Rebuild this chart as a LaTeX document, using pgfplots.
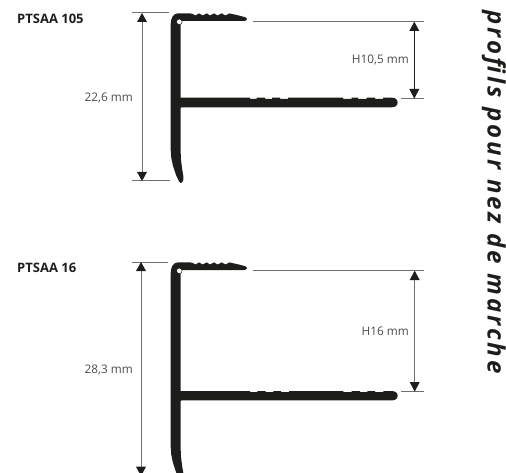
\documentclass[border=0pt]{standalone}
\usepackage{fontspec}
\setmainfont{Open Sans}
\newfontfamily\titlefont[LetterSpace=13,BoldItalicFont={* Bold Italic}]{Open Sans}
\usepackage{pgfplots}
\pgfplotsset{compat=1.18}
\definecolor{profil}{HTML}{1D1D1B}
\definecolor{trait}{HTML}{6F6F6E}
\definecolor{texte}{HTML}{4A4A49}
\pgfplotsset{
	dim/.style={trait,line width=1pt},
	tete/.style={fill=profil,draw=none},
	forme/.style={fill=profil,draw=none},
}
\begin{document}
\begin{tikzpicture}
\begin{axis}[
	scale only axis,
	width=506pt,
	height=473pt,
	xmin=0,xmax=506,
	ymin=0,ymax=473,
	y dir=reverse,
	hide axis,
]
% PTSAA 105
\addplot[forme] coordinates {
	(170.7,24) (171.2,20) (172.5,16.5) (175,14.2) (178,13.3) (190,13.3)
	(192.5,14) (195.5,15.5) (199,13.4) (202.7,15.5) (206.7,13.4) (210,15.5) (214,13.4)
	(217.5,15.5) (221.7,13.4) (225.5,15.5) (229.5,13.4) (240,15.8) (245.5,17.3) (247,19) (246,20.5) (244,21)
	(181,21) (180.7,24) (180.7,97.7)
	(250,97.7) (250,98.8) (256.7,98.8) (256.7,97.7) (265,97.7) (265,98.8) (272,98.8) (272,97.7)
	(280,97.7) (280,98.8) (288,98.8) (288,97.7) (343,97.7) (343,98.8) (351.7,98.8) (351.7,97.7)
	(358,97.7) (358,98.8) (366.7,98.8) (366.7,97.7) (375,97.7) (375,98.8) (383,98.8) (383,97.7)
	(392,97.7) (395,98.3) (397,100) (397.7,102.5) (397,105) (395,106.7) (392,107.3)
	(181.5,107.3) (180.7,108) (180.7,153) (181,160) (182,168) (183.3,176) (183.3,180) (182,182.5) (180.5,183)
	(179,181.5) (176,175) (173,166) (171.3,158) (170.7,150)
};
\addplot[only marks,mark=*,mark size=2.8pt,mark options={fill=white,draw=none}] coordinates {(179.3,21.8)};
\addplot[dim] coordinates {(131.7,13) (169,13)};
\addplot[dim] coordinates {(131.7,181) (170,181)};
\addplot[dim] coordinates {(142,15) (142,179)};
\addplot[tete] coordinates {(142,13) (147,22) (137,22)};
\addplot[tete] coordinates {(142,181) (147,172) (137,172)};
\addplot[dim] coordinates {(253.3,21.7) (424.3,21.7)};
\addplot[dim] coordinates {(401,98.7) (424.3,98.7)};
\addplot[profil,line width=0.8pt] coordinates {(414.3,24) (414.3,96)};
\addplot[tete] coordinates {(414.3,21.7) (419.3,31) (409.3,31)};
\addplot[tete] coordinates {(414.3,98.7) (419.3,89) (409.3,89)};
% PTSAA 16
\addplot[forme] coordinates {
	(170.7,273) (171.2,269) (172.5,265.5) (175,263.2) (178,262.3) (190,262.3)
	(192.5,263) (195.5,264.5) (199,262.4) (202.7,264.5) (206.7,262.4) (210,264.5) (214,262.4)
	(217.5,264.5) (221.7,262.4) (225.5,264.5) (229.5,262.4) (240,264.8) (245.5,266.3) (247,268) (246,269.5) (244,270)
	(181,270) (180.7,273) (180.7,391)
	(250,391) (250,392.1) (257.3,392.1) (257.3,391) (265.7,391) (265.7,392.1) (273.3,392.1) (273.3,391)
	(281,391) (281,392.1) (289,392.1) (289,391) (343.3,391) (343.3,392.1) (351.7,392.1) (351.7,391)
	(360,391) (360,392.1) (367.3,392.1) (367.3,391) (375,391) (375,392.1) (383.3,392.1) (383.3,391)
	(392,391) (395,391.6) (397,393.3) (397.7,395.7) (397,398.2) (395,399.8) (392,400.4)
	(181.5,400.4) (180.7,401) (180.7,450) (181,457) (182,465) (183.3,473) (183.3,477) (182,479.5) (180.5,480)
	(179,478.5) (176,472) (173,463) (171.3,455) (170.7,447)
};
\addplot[only marks,mark=*,mark size=2.8pt,mark options={fill=white,draw=none}] coordinates {(179.3,270.8)};
\addplot[dim] coordinates {(131.7,262) (168.3,262)};
\addplot[dim] coordinates {(141,264) (141,470)};
\addplot[tete] coordinates {(141,262) (146,271) (136,271)};
\addplot[tete] coordinates {(141,476) (146,466.7) (136,466.7)};
\addplot[dim] coordinates {(253,270.7) (424.3,270.7)};
\addplot[dim] coordinates {(401,391.7) (424.3,391.7)};
\addplot[dim] coordinates {(414.7,273) (414.7,389)};
\addplot[tete] coordinates {(414.7,270.7) (419.7,280) (409.7,280)};
\addplot[tete] coordinates {(414.7,391.7) (419.7,382) (409.7,382)};
% textes
\node[anchor=west,inner sep=0pt,font=\fontsize{13}{15}\selectfont\bfseries,text=profil] at (axis cs:17,19) {PTSAA 105};
\node[anchor=west,inner sep=0pt,font=\fontsize{13}{15}\selectfont\bfseries,text=profil] at (axis cs:17,267.7) {PTSAA 16};
\node[anchor=east,inner sep=0pt,font=\fontsize{11.8}{13}\selectfont,text=texte] at (axis cs:133,98) {22,6 mm};
\node[anchor=east,inner sep=0pt,font=\fontsize{11.8}{13}\selectfont,text=texte] at (axis cs:133,370) {28,3 mm};
\node[anchor=east,inner sep=0pt,font=\fontsize{11.8}{13}\selectfont,text=texte] at (axis cs:409,60) {H10,5 mm};
\node[anchor=east,inner sep=0pt,font=\fontsize{11.8}{13}\selectfont,text=texte] at (axis cs:409,331) {H16 mm};
\node[rotate=-90,anchor=base west,inner sep=0pt,font=\fontsize{24}{26}\selectfont\titlefont\bfseries\itshape,text=profil] at (axis cs:487.5,10) {profils pour nez de marche};
\end{axis}
\pgfresetboundingbox
\useasboundingbox (current axis.south west) rectangle (current axis.north east);
\end{tikzpicture}
\end{document}
